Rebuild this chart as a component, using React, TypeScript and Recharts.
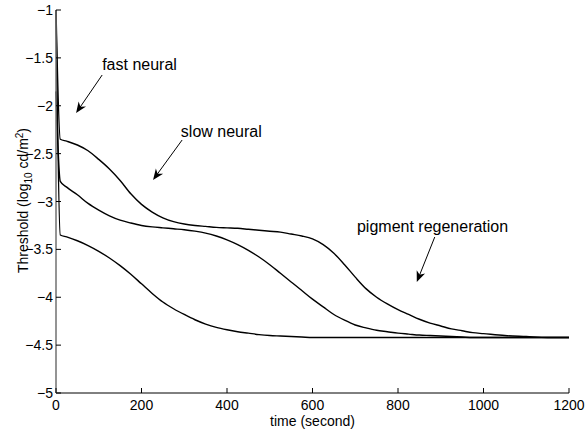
import React from "react";
import { LineChart, Line, XAxis, YAxis, ReferenceLine, ReferenceDot } from "recharts";

// time axis (seconds)
const times = [0, 10, 25, 50, 75, 100, 125, 150, 175, 200, 225, 250, 275, 300, 325, 350, 375, 400, 425, 450, 475, 500, 525, 550, 575, 600, 625, 650, 675, 700, 725, 750, 775, 800, 825, 850, 875, 900, 925, 950, 975, 1000, 1050, 1100, 1150, 1200];

// threshold curves, log10 cd/m^2
const upperCurve = [
  -1, -2.35, -2.37, -2.41, -2.47, -2.56, -2.66, -2.78, -2.92, -3.03,
  -3.11, -3.17, -3.21, -3.235, -3.25, -3.26, -3.27, -3.275, -3.28, -3.29,
  -3.3, -3.31, -3.32, -3.34, -3.36, -3.39, -3.45, -3.54, -3.66, -3.79,
  -3.91, -4.0, -4.07, -4.13, -4.18, -4.23, -4.27, -4.3, -4.33, -4.35,
  -4.37, -4.38, -4.4, -4.41, -4.42, -4.42,
];
const middleCurve = [
  -1.85, -2.79, -2.85, -2.93, -3.02, -3.09, -3.15, -3.195, -3.225, -3.25,
  -3.265, -3.275, -3.285, -3.295, -3.31, -3.33, -3.36, -3.4, -3.45, -3.51,
  -3.58, -3.66, -3.75, -3.84, -3.93, -4.02, -4.1, -4.18, -4.24, -4.29,
  -4.32, -4.345, -4.36, -4.375, -4.385, -4.395, -4.4, -4.405, -4.41, -4.415,
  -4.42, -4.42, -4.42, -4.42, -4.42, -4.42,
];
const lowerCurve = [
  -1, -3.35, -3.37, -3.41, -3.46, -3.52, -3.59, -3.67, -3.76, -3.86,
  -3.96, -4.05, -4.12, -4.18, -4.235, -4.28, -4.315, -4.34, -4.36, -4.375,
  -4.39, -4.4, -4.405, -4.41, -4.415, -4.42, -4.42, -4.42, -4.42, -4.42,
  -4.42, -4.42, -4.42, -4.42, -4.42, -4.42, -4.42, -4.42, -4.42, -4.42,
  -4.42, -4.42, -4.42, -4.42, -4.42, -4.42,
];

const xTicks = [0, 200, 400, 600, 800, 1000, 1200];
const yTicks = [-5, -4.5, -4, -3.5, -3, -2.5, -2, -1.5, -1];

// annotation text anchors and arrows, in data units
const notes = [
  { text: "fast neural", x: 108, y: -1.574, from: [108, -1.679], to: [47, -2.076] },
  { text: "slow neural", x: 292, y: -2.274, from: [295, -2.358], to: [227, -2.775] },
  { text: "pigment regeneration", x: 704, y: -3.266, from: [886, -3.371], to: [844, -3.841] },
];

const rows = times.map((t, i) => ({
  t,
  upper: upperCurve[i],
  middle: middleCurve[i],
  lower: lowerCurve[i],
}));

const FONT = "'Liberation Sans', Arial, Helvetica, sans-serif";

const fmt = (v: number) => (v < 0 ? "\u2212" + Math.abs(v) : String(v));

const XTick = ({ x, y, payload }: any) => (
  <g>
    <line x1={x} y1={y} x2={x} y2={y - 5} stroke="#000" />
    <text x={x} y={y + 17} textAnchor="middle" fontSize={14} fill="#000" fontFamily={FONT}>
      {payload.value}
    </text>
  </g>
);

const YTick = ({ x, y, payload }: any) => (
  <g>
    <line x1={x} y1={y} x2={x + 5} y2={y} stroke="#000" />
    <text x={x - 3} y={y + 5} textAnchor="end" fontSize={14} fill="#000" fontFamily={FONT}>
      {fmt(payload.value)}
    </text>
  </g>
);

const xLabel = (props: any) => {
  const vb = props.viewBox;
  return (
    <text x={vb.x + vb.width / 2} y={vb.y + 33} textAnchor="middle" fontSize={14} fontFamily={FONT} fill="#000">
      time (second)
    </text>
  );
};

const yLabel = (props: any) => {
  const vb = props.viewBox;
  const cx = 28;
  const cy = vb.y + vb.height / 2 - 1;
  return (
    <text x={cx} y={cy} textAnchor="middle" fontSize={14} fontFamily={FONT} fill="#000" transform={`rotate(-90, ${cx}, ${cy})`}>
      <tspan>Threshold (log</tspan>
      <tspan dy={4} fontSize={10}>10</tspan>
      <tspan dy={-4}> cd/m</tspan>
      <tspan dy={-5} fontSize={10}>2</tspan>
      <tspan dy={5}>)</tspan>
    </text>
  );
};

const Arrow = (props: any) => {
  const { x1, y1, x2, y2 } = props;
  const dx = x2 - x1;
  const dy = y2 - y1;
  const len = Math.sqrt(dx * dx + dy * dy) || 1;
  const ux = dx / len;
  const uy = dy / len;
  const hl = 11;
  const hw = 4.5;
  const bx = x2 - ux * hl;
  const by = y2 - uy * hl;
  const pts = `${x2},${y2} ${bx - uy * hw},${by + ux * hw} ${x2 - ux * hl * 0.7},${y2 - uy * hl * 0.7} ${bx + uy * hw},${by - ux * hw}`;
  return (
    <g>
      <line x1={x1} y1={y1} x2={x2 - ux * 6} y2={y2 - uy * 6} stroke="#000" strokeWidth={1} />
      <polygon points={pts} fill="#000" />
    </g>
  );
};

export default function App() {
  return (
    <div style={{ position: "absolute", left: 0, top: 0, background: "#fff" }}>
      <LineChart
        width={587}
        height={434}
        data={rows}
        margin={{ top: 10, right: 18, left: 55, bottom: 40 }}
        style={{ fontFamily: FONT }}
      >
        <XAxis
          dataKey="t"
          type="number"
          domain={[0, 1200]}
          ticks={xTicks}
          height={1}
          tickSize={0}
          tickMargin={0}
          tick={<XTick />}
          axisLine={{ stroke: "#000", strokeWidth: 1 }}
          label={{ content: xLabel }}
        />
        <YAxis
          type="number"
          domain={[-5, -1]}
          ticks={yTicks}
          width={1}
          tickSize={0}
          tickMargin={0}
          tick={<YTick />}
          axisLine={{ stroke: "#707070", strokeWidth: 1.5 }}
          label={{ content: yLabel }}
        />
        <Line dataKey="upper" type="monotone" stroke="#000" strokeWidth={1.4} dot={false} isAnimationActive={false} />
        <Line dataKey="middle" type="monotone" stroke="#000" strokeWidth={1.4} dot={false} isAnimationActive={false} />
        <Line dataKey="lower" type="monotone" stroke="#000" strokeWidth={1.4} dot={false} isAnimationActive={false} />
        {notes.map((n) => (
          <ReferenceLine
            key={n.text + "-arrow"}
            segment={[
              { x: n.from[0], y: n.from[1] },
              { x: n.to[0], y: n.to[1] },
            ]}
            shape={<Arrow />}
          />
        ))}
        {notes.map((n) => (
          <ReferenceDot
            key={n.text}
            x={n.x}
            y={n.y}
            r={0}
            shape={(p: any) => (
              <text x={p.cx} y={p.cy + 5} fontSize={16} fontFamily={FONT} fill="#000">
                {n.text}
              </text>
            )}
          />
        ))}
      </LineChart>
    </div>
  );
}
